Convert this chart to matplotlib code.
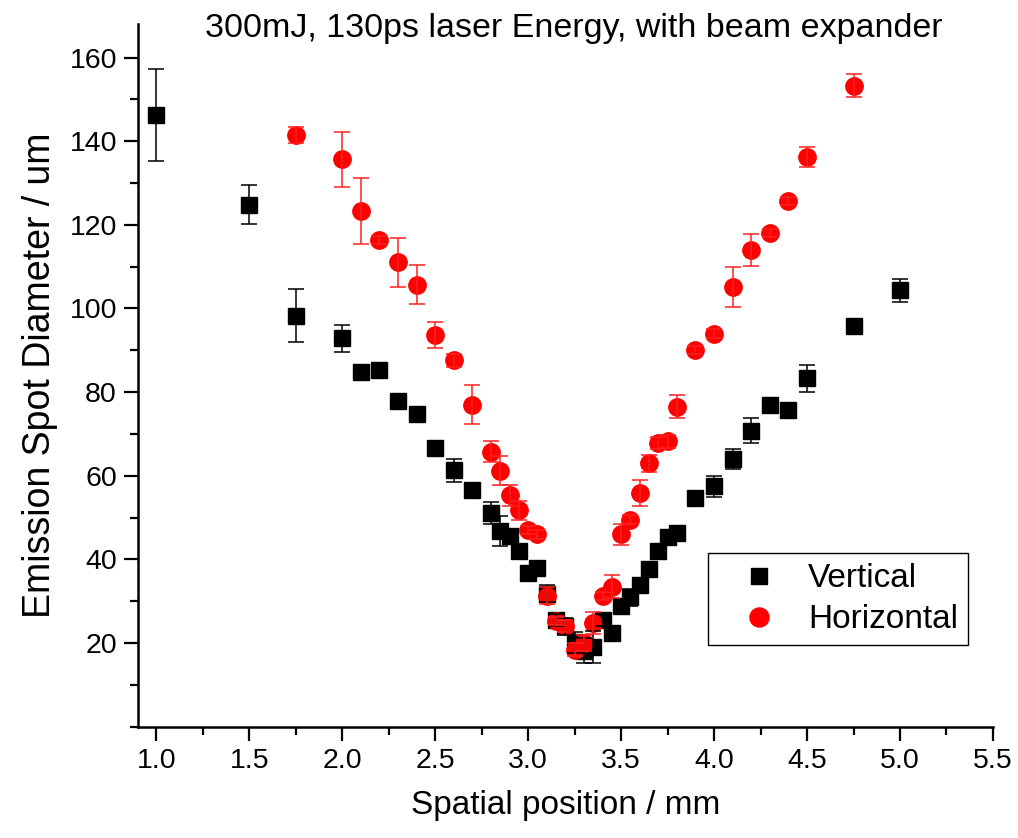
import matplotlib.pyplot as plt
from matplotlib.ticker import MultipleLocator

plt.rcParams['font.family'] = ['Liberation Sans', 'DejaVu Sans']

# spatial scan, vertical spot diameter
x_vert = [1.0, 1.5, 1.75, 2.0, 2.1, 2.2, 2.3, 2.4, 2.5, 2.6,
          2.7, 2.8, 2.85, 2.9, 2.95, 3.0, 3.05, 3.1, 3.15, 3.2,
          3.25, 3.3, 3.35, 3.4, 3.45, 3.5, 3.55, 3.6, 3.65, 3.7,
          3.75, 3.8, 3.9, 4.0, 4.1, 4.2, 4.3, 4.4, 4.5, 4.75, 5.0]
y_vert = [146.2, 124.8, 98.3, 92.9, 84.8, 85.4, 77.9, 74.7, 66.6, 61.3,
          56.5, 51.1, 46.7, 45.5, 42.0, 36.7, 38.0, 31.8, 25.5, 24.0,
          20.2, 18.2, 19.0, 25.5, 22.5, 28.9, 30.9, 34.0, 37.8, 42.0,
          45.4, 46.4, 54.8, 57.5, 64.0, 70.8, 76.9, 75.7, 83.3, 95.7, 104.3]
err_vert = [11.0, 4.6, 6.4, 3.2, 1.5, 1.0, 1.0, 1.5, 1.0, 2.7,
            1.0, 2.6, 3.6, 1.5, 1.0, 1.0, 1.0, 2.0, 1.5, 2.0,
            2.5, 3.0, 3.8, 1.5, 1.0, 1.5, 2.0, 1.5, 1.5, 1.5,
            1.0, 1.5, 1.0, 2.5, 2.5, 3.0, 1.0, 1.0, 3.2, 1.0, 2.7]

# horizontal spot diameter
x_hor = [1.75, 2.0, 2.1, 2.2, 2.3, 2.4, 2.5, 2.6, 2.7, 2.8,
         2.85, 2.9, 2.95, 3.0, 3.05, 3.1, 3.15, 3.2, 3.25, 3.3,
         3.35, 3.4, 3.45, 3.5, 3.55, 3.6, 3.65, 3.7, 3.75, 3.8,
         3.9, 4.0, 4.1, 4.2, 4.3, 4.4, 4.5, 4.75]
y_hor = [141.5, 135.7, 123.3, 116.4, 111.0, 105.7, 93.6, 87.6, 77.0, 65.8,
         61.2, 55.3, 51.7, 47.0, 46.0, 31.3, 25.3, 24.1, 18.4, 20.0,
         24.8, 31.3, 33.5, 46.0, 49.5, 55.9, 63.0, 67.8, 68.2, 76.5,
         90.0, 94.0, 105.1, 114.0, 118.0, 125.7, 136.3, 153.3]
err_hor = [2.0, 6.6, 7.9, 1.0, 5.8, 4.6, 3.1, 1.5, 4.6, 2.4,
           3.5, 2.6, 2.3, 1.0, 1.0, 2.0, 1.0, 1.5, 1.5, 2.0,
           2.6, 1.0, 2.7, 2.5, 1.0, 3.1, 2.0, 1.5, 1.5, 2.7,
           1.0, 1.0, 4.8, 3.8, 1.0, 1.0, 2.4, 2.7]

fig = plt.figure(figsize=(10.18, 8.38), dpi=100)
ax = fig.add_axes([0.1353, 0.1328, 0.8401, 0.8385])

ax.plot(x_vert, y_vert, ls='none', marker='s', ms=11, color='black',
        label='Vertical', zorder=2)
ax.plot(x_hor, y_hor, ls='none', marker='o', ms=12.5, color='red',
        label='Horizontal', zorder=2)
ax.errorbar(x_vert, y_vert, yerr=err_vert, fmt='none', ecolor='black',
            elinewidth=1.1, capsize=5.5, capthick=1.1, zorder=3)
ax.errorbar(x_hor, y_hor, yerr=err_hor, fmt='none', ecolor='#ff2020',
            elinewidth=1.1, capsize=5.5, capthick=1.1, zorder=3)

ax.set_xlim(0.9, 5.5)
ax.set_ylim(0, 168)
ax.xaxis.set_major_locator(MultipleLocator(0.5))
ax.xaxis.set_minor_locator(MultipleLocator(0.25))
ax.yaxis.set_major_locator(MultipleLocator(20))
ax.yaxis.set_minor_locator(MultipleLocator(10))
ax.set_yticks([20, 40, 60, 80, 100, 120, 140, 160])

for side in ['top', 'right']:
    ax.spines[side].set_visible(False)
for side in ['left', 'bottom']:
    ax.spines[side].set_linewidth(1.8)

ax.tick_params(which='major', direction='out', length=10, width=1.6,
               labelsize=20.5, pad=5)
ax.tick_params(which='minor', direction='out', length=5.5, width=1.6)

ax.set_xlabel('Spatial position / mm', fontsize=24, labelpad=12)
ax.set_ylabel('Emission Spot Diameter / um', fontsize=27, labelpad=8)
fig.text(0.564, 1 - 37 / 838, '300mJ, 130ps laser Energy, with beam expander',
         fontsize=24.5, ha='center', va='baseline')

leg = ax.legend(loc='lower right', bbox_to_anchor=(0.971, 0.116),
                fontsize=24, fancybox=False, edgecolor='black',
                framealpha=1, borderpad=0.3, handletextpad=0.25,
                labelspacing=0.3, handlelength=2.45, borderaxespad=0,
                markerscale=1.1)
leg.get_frame().set_linewidth(1.0)

fig.savefig('out.png', dpi=100)
